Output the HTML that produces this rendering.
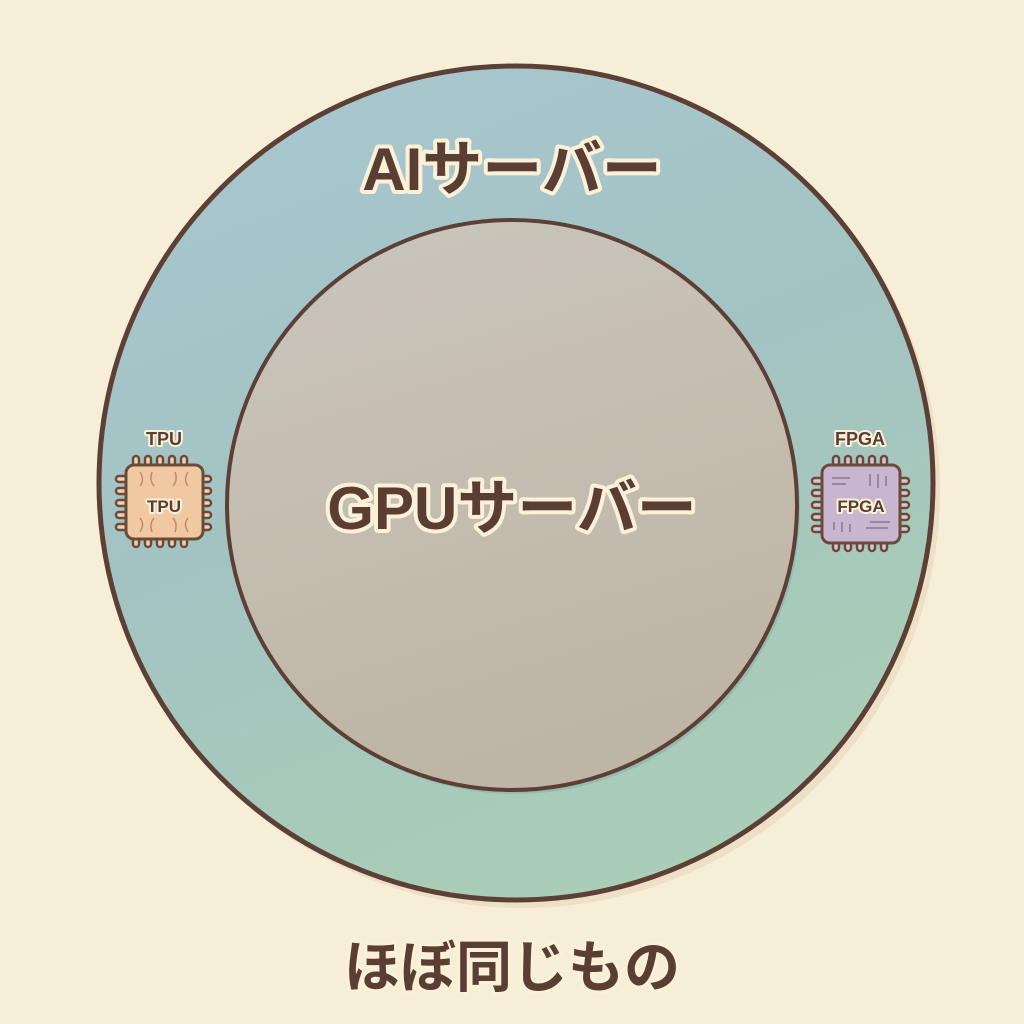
<!DOCTYPE html>
<html><head><meta charset="utf-8"><style>
html,body{margin:0;padding:0;background:#f7eed8;}
svg{display:block}
text{font-family:"Liberation Sans","Noto Sans CJK JP",sans-serif;font-weight:bold;fill:#5a3e34;paint-order:stroke;stroke:#fbf1d8;stroke-linejoin:round}
</style></head><body>
<svg width="1024" height="1024" viewBox="0 0 1024 1024">
<defs>
<linearGradient id="og" x1="0" y1="0" x2="0.4" y2="1">
<stop offset="0" stop-color="#a9c7d1"/><stop offset="0.55" stop-color="#a3c3c2"/><stop offset="1" stop-color="#a9cdb6"/>
</linearGradient>
<linearGradient id="ig" x1="0" y1="0" x2="0.3" y2="1">
<stop offset="0" stop-color="#cac6bd"/><stop offset="1" stop-color="#bfb5a6"/>
</linearGradient>
</defs>
<rect width="1024" height="1024" fill="#f7eed8"/>
<circle cx="522" cy="490" r="418" fill="#e6d7bb" opacity="0.6"/>
<circle cx="516" cy="483" r="417" fill="url(#og)" stroke="#5c4036" stroke-width="5"/>
<circle cx="515" cy="509" r="285" fill="#88a9a6" opacity="0.5"/>
<circle cx="512" cy="505" r="285" fill="url(#ig)" stroke="#5c4036" stroke-width="4"/>
<text x="512" y="190" font-size="60" text-anchor="middle" stroke-width="8">AIサーバー</text>
<text x="512" y="529" font-size="60" text-anchor="middle" stroke-width="8">GPUサーバー</text>
<text x="512" y="987" font-size="56" text-anchor="middle" stroke-width="6">ほぼ同じもの</text>
<!-- TPU chip -->
<g stroke="#6b4a3a" stroke-width="2.5" fill="#f2d2b2">
<g id="pinsT">
<rect x="133" y="456" width="6" height="12" rx="3"/><rect x="145" y="456" width="6" height="12" rx="3"/><rect x="157" y="456" width="6" height="12" rx="3"/><rect x="169" y="456" width="6" height="12" rx="3"/><rect x="181" y="456" width="6" height="12" rx="3"/>
<rect x="133" y="535" width="6" height="12" rx="3"/><rect x="145" y="535" width="6" height="12" rx="3"/><rect x="157" y="535" width="6" height="12" rx="3"/><rect x="169" y="535" width="6" height="12" rx="3"/><rect x="181" y="535" width="6" height="12" rx="3"/>
<rect x="116" y="476" width="12" height="6" rx="3"/><rect x="116" y="488" width="12" height="6" rx="3"/><rect x="116" y="500" width="12" height="6" rx="3"/><rect x="116" y="512" width="12" height="6" rx="3"/><rect x="116" y="524" width="12" height="6" rx="3"/>
<rect x="199" y="476" width="12" height="6" rx="3"/><rect x="199" y="488" width="12" height="6" rx="3"/><rect x="199" y="500" width="12" height="6" rx="3"/><rect x="199" y="512" width="12" height="6" rx="3"/><rect x="199" y="524" width="12" height="6" rx="3"/>
</g>
<rect x="126" y="465" width="77" height="74" rx="8" fill="#f0c9a3" stroke-width="3"/>
</g>
<g stroke="#c08a68" stroke-width="1.5" fill="none">
<path d="M140 472 q5 8 0 14 M152 472 q-3 8 2 14 M175 472 q3 8 -2 14 M188 472 q-5 8 0 14 M140 532 q5 -8 0 -14 M152 532 q-3 -8 2 -14 M175 532 q3 -8 -2 -14 M188 532 q-5 -8 0 -14"/>
</g>
<text x="164" y="445" font-size="18" text-anchor="middle" stroke-width="4">TPU</text>
<text x="164" y="512" font-size="17" text-anchor="middle" stroke-width="4">TPU</text>
<!-- FPGA chip -->
<g stroke="#6b4a3a" stroke-width="2.5" fill="#d4c7da">
<rect x="833" y="456" width="6" height="12" rx="3"/><rect x="845" y="456" width="6" height="12" rx="3"/><rect x="857" y="456" width="6" height="12" rx="3"/><rect x="869" y="456" width="6" height="12" rx="3"/><rect x="881" y="456" width="6" height="12" rx="3"/>
<rect x="833" y="539" width="6" height="12" rx="3"/><rect x="845" y="539" width="6" height="12" rx="3"/><rect x="857" y="539" width="6" height="12" rx="3"/><rect x="869" y="539" width="6" height="12" rx="3"/><rect x="881" y="539" width="6" height="12" rx="3"/>
<rect x="812" y="478" width="12" height="6" rx="3"/><rect x="812" y="490" width="12" height="6" rx="3"/><rect x="812" y="502" width="12" height="6" rx="3"/><rect x="812" y="514" width="12" height="6" rx="3"/><rect x="812" y="526" width="12" height="6" rx="3"/>
<rect x="897" y="478" width="12" height="6" rx="3"/><rect x="897" y="490" width="12" height="6" rx="3"/><rect x="897" y="502" width="12" height="6" rx="3"/><rect x="897" y="514" width="12" height="6" rx="3"/><rect x="897" y="526" width="12" height="6" rx="3"/>
<rect x="822" y="465" width="78" height="78" rx="8" fill="#c8b6d0" stroke-width="3"/>
</g>
<g stroke="#8a7596" stroke-width="1.5" fill="none">
<path d="M832 478 h18 M832 484 h14 M870 474 v12 M878 474 v14 M886 476 v10 M834 530 v-8 M842 532 v-10 M850 532 v-8 M870 522 h20 M866 528 h22"/>
</g>
<text x="860" y="445" font-size="18" text-anchor="middle" stroke-width="4">FPGA</text>
<text x="861" y="512" font-size="17" text-anchor="middle" stroke-width="4">FPGA</text>
</svg>
</body></html>
